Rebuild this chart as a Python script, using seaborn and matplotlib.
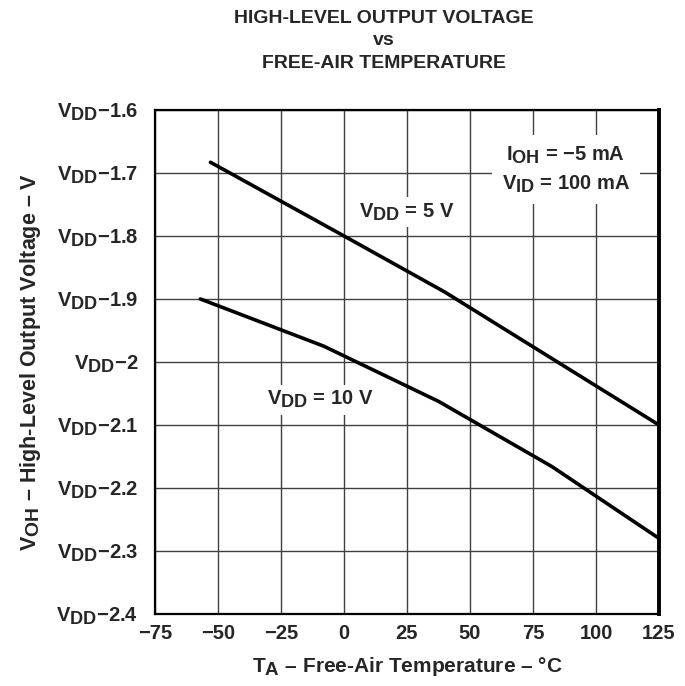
import matplotlib
matplotlib.use("Agg")
import matplotlib.pyplot as plt
import matplotlib._mathtext as _mt
import seaborn as sns
import pandas as pd

# subscripts in the reference are nearly full size
_mt.SHRINK_FACTOR = 0.9

# Data
temp_5v = [-53, 0, 40, 125]
voh_5v = [-1.683, -1.800, -1.889, -2.100]
temp_10v = [-57, -8, 37.5, 82.5, 125]
voh_10v = [-1.900, -1.975, -2.0625, -2.166, -2.280]

x_ticks = [-75, -50, -25, 0, 25, 50, 75, 100, 125]
y_ticks = [-2.4, -2.3, -2.2, -2.1, -2.0, -1.9, -1.8, -1.7, -1.6]
y_labels = ["2.4", "2.3", "2.2", "2.1", "2", "1.9", "1.8", "1.7", "1.6"]

df = pd.concat([
    pd.DataFrame({"T": temp_5v, "VOH": voh_5v, "VDD": "5 V"}),
    pd.DataFrame({"T": temp_10v, "VOH": voh_10v, "VDD": "10 V"}),
])

sns.set_style("white")
plt.rcParams["font.family"] = ["Liberation Sans", "DejaVu Sans"]
plt.rcParams["font.weight"] = "bold"
plt.rcParams["axes.labelweight"] = "bold"
plt.rcParams["mathtext.fontset"] = "custom"
plt.rcParams["mathtext.rm"] = "Liberation Sans:bold"
plt.rcParams["mathtext.it"] = "Liberation Sans:bold"
plt.rcParams["mathtext.bf"] = "Liberation Sans:bold"

fig = plt.figure(figsize=(6.85, 6.86), dpi=100)
ax = fig.add_axes([0.2263, 0.105, 0.7357, 0.7347])

sns.lineplot(data=df, x="T", y="VOH", hue="VDD", palette=["black", "black"],
             linewidth=2.6, legend=False, ax=ax, sort=False, estimator=None)

ax.set_xlim(-75, 125)
ax.set_ylim(-2.4, -1.6)
ax.set_xticks(x_ticks)
ax.set_xticklabels([str(t).replace("-", "\u2212") for t in x_ticks])
ax.set_yticks(y_ticks)
ax.set_yticklabels([r"$\mathrm{V_{DD}}$" + "\u2212" + s for s in y_labels])
ax.tick_params(axis="both", length=0, labelsize=14.5)
ax.tick_params(axis="x", pad=7)
ax.tick_params(axis="y", pad=12)
ax.grid(True, color="0.25", linewidth=1.0)

for s in ["left", "bottom", "top"]:
    ax.spines[s].set_linewidth(1.6)
    ax.spines[s].set_color("black")
ax.spines["right"].set_linewidth(2.8)
ax.spines["right"].set_color("black")

box = dict(facecolor="white", edgecolor="none", pad=3)
ax.text(25, -1.762, r"$\mathrm{V_{DD}}$ = 5 V", ha="center", va="center",
        fontsize=14.5, bbox=box)
ax.text(-9.5, -2.06, r"$\mathrm{V_{DD}}$ = 10 V", ha="center", va="center",
        fontsize=14.5, bbox=box)
ax.text(88, -1.695,
        r"$\mathrm{I_{OH}}$ = " + "\u22125 mA" + "\n" + r"$\mathrm{V_{ID}}$ = 100 mA",
        ha="center", va="center", fontsize=14.5, linespacing=1.45,
        bbox=dict(facecolor="white", edgecolor="none", pad=7))

ax.set_xlabel(r"$\mathrm{T_A}$" + " \u2013 Free-Air Temperature \u2013 \u00b0C",
              fontsize=15, labelpad=9)
ax.set_ylabel(r"$\mathrm{V_{OH}}$" + " \u2013 High-Level Output Voltage \u2013 V",
              fontsize=15.5, labelpad=10)

fig.text(0.561, 0.985, "HIGH-LEVEL OUTPUT VOLTAGE\nvs\nFREE-AIR TEMPERATURE",
         ha="center", va="top", fontsize=14, linespacing=1.4)

fig.savefig("out.png", dpi=100)
